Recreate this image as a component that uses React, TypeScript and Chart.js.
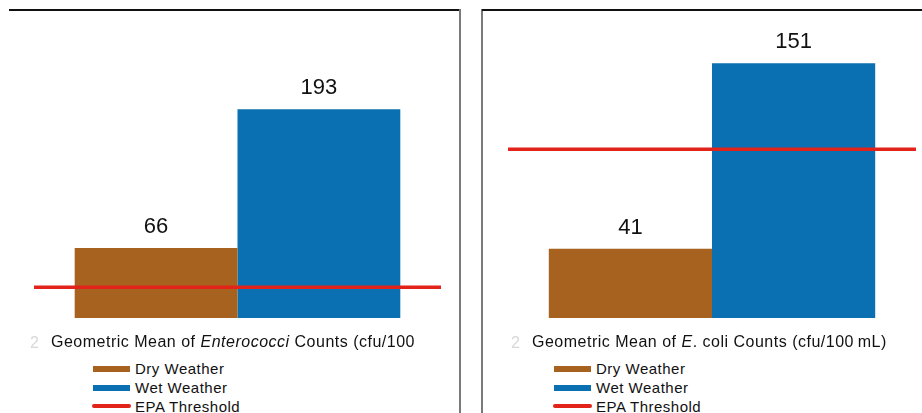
import React, { useEffect, useRef } from "react";
import { Chart, registerables } from "chart.js";

Chart.register(...registerables);

// Series shared by both panels
const seriesNames = ["Dry Weather", "Wet Weather"];
const seriesColors = ["#A6621E", "#0A70B1"];
const thresholdName = "EPA Threshold";
const thresholdColor = "#E2231A";

// Enterococci panel
const enteroValues = [66, 193];
const enteroThreshold = 30;
const enteroMax = 250;

// E. coli panel
const ecoliValues = [41, 151];
const ecoliThreshold = 100;
const ecoliMax = 160;

const FONT = "'Liberation Sans', Arial, Helvetica, sans-serif";

// Draws the value above each bar
const valueLabels = {
  id: "valueLabels",
  afterDatasetsDraw(chart: any) {
    const ctx = chart.ctx;
    ctx.save();
    ctx.font = `22px ${FONT}`;
    ctx.fillStyle = "#111";
    ctx.textAlign = "center";
    ctx.textBaseline = "alphabetic";
    chart.data.datasets.forEach((ds: any, i: number) => {
      const meta = chart.getDatasetMeta(i);
      meta.data.forEach((bar: any, j: number) => {
        ctx.fillText(String(ds.data[j]), bar.x, bar.y - 15);
      });
    });
    ctx.restore();
  },
};

// Draws the threshold as a horizontal rule across the plot area
const thresholdLine = {
  id: "thresholdLine",
  afterDatasetsDraw(chart: any, _args: any, opts: any) {
    const { ctx, chartArea, scales } = chart;
    const y = scales.y.getPixelForValue(opts.value);
    ctx.save();
    ctx.strokeStyle = opts.color;
    ctx.lineWidth = 3.5;
    ctx.beginPath();
    ctx.moveTo(chartArea.left, y);
    ctx.lineTo(chartArea.right, y);
    ctx.stroke();
    ctx.restore();
  },
};

type PanelProps = {
  values: number[];
  threshold: number;
  max: number;
  left: number;
  padLeft: number;
  padRight: number;
  padTop: number;
  padBottom: number;
  width: number;
};

function BarPanel({ values, threshold, max, left, padLeft, padRight, padTop, padBottom, width }: PanelProps) {
  const ref = useRef<HTMLCanvasElement | null>(null);
  useEffect(() => {
    if (!ref.current) return;
    const chart = new Chart(ref.current, {
      type: "bar",
      data: {
        labels: [""],
        datasets: seriesNames.map((name, i) => ({
          label: name,
          data: [values[i]],
          backgroundColor: seriesColors[i],
          borderWidth: 0,
          categoryPercentage: 0.8,
          barPercentage: 1,
        })),
      },
      options: {
        animation: false,
        responsive: false,
        maintainAspectRatio: false,
        layout: { padding: { left: padLeft, right: padRight, top: padTop, bottom: padBottom } },
        scales: {
          x: { display: false },
          y: { display: false, min: 0, max },
        },
        plugins: {
          legend: { display: false },
          tooltip: { enabled: false },
          thresholdLine: { value: threshold, color: thresholdColor },
        } as any,
      },
      plugins: [valueLabels, thresholdLine],
    });
    return () => chart.destroy();
  }, []);
  return (
    <canvas
      ref={ref}
      width={width}
      height={330}
      style={{ position: "absolute", left, top: 0, width, height: 330 }}
    />
  );
}

function Legend({ left }: { left: number }) {
  const rows = [
    { name: seriesNames[0], color: seriesColors[0], kind: "bar" },
    { name: seriesNames[1], color: seriesColors[1], kind: "bar" },
    { name: thresholdName, color: thresholdColor, kind: "line" },
  ];
  return (
    <>
      {rows.map((r, i) => (
        <div
          key={r.name}
          style={{
            position: "absolute",
            left,
            top: 361 + i * 19,
            height: 15,
            lineHeight: "15px",
            fontSize: 15,
            letterSpacing: "0.5px",
            fontFamily: FONT,
            color: "#111",
            whiteSpace: "nowrap",
          }}
        >
          <span
            style={{
              position: "absolute",
              left: r.kind === "bar" ? 1 : 0,
              top: 5,
              width: r.kind === "bar" ? 37 : 39,
              height: r.kind === "bar" ? 6 : 4,
              borderRadius: r.kind === "bar" ? 0 : 2,
              background: r.color,
            }}
          />
          <span style={{ position: "absolute", left: 43 }}>{r.name}</span>
        </div>
      ))}
    </>
  );
}

function Title({ left, children }: { left: number; children: React.ReactNode }) {
  return (
    <>
      <div
        style={{
          position: "absolute",
          left: left - 21,
          top: 335,
          fontSize: 16,
          lineHeight: "16px",
          fontFamily: FONT,
          color: "#d8d8d8",
        }}
      >
        2
      </div>
      <div
        style={{
          position: "absolute",
          left,
          top: 334,
          fontSize: 16,
          lineHeight: "16px",
          letterSpacing: "0.5px",
          fontFamily: FONT,
          color: "#111",
          whiteSpace: "nowrap",
        }}
      >
        {children}
      </div>
    </>
  );
}

export default function App() {
  return (
    <div
      style={{
        position: "fixed",
        left: 0,
        top: 0,
        width: 922,
        height: 413,
        background: "#fff",
        overflow: "hidden",
      }}
    >
      {/* panel frames */}
      <div style={{ position: "absolute", left: 9, top: 9, width: 451, height: 1.5, background: "#111" }} />
      <div style={{ position: "absolute", left: 459, top: 9, width: 2, height: 404, background: "#7a7a7a" }} />
      <div style={{ position: "absolute", left: 481, top: 9, width: 2, height: 404, background: "#7a7a7a" }} />
      <div style={{ position: "absolute", left: 482, top: 9, width: 440, height: 1.5, background: "#111" }} />

      <BarPanel values={enteroValues} threshold={enteroThreshold} max={enteroMax} left={0} padLeft={34} padRight={17} padTop={47} padBottom={10} width={458} />
      <BarPanel values={ecoliValues} threshold={ecoliThreshold} max={ecoliMax} left={462} padLeft={46} padRight={6} padTop={48} padBottom={12} width={460} />

      {/* the caption block sits over the lower edge of the plot */}
      <div style={{ position: "absolute", left: 0, top: 318, width: 458, height: 14, background: "#fff" }} />

      <Title left={51}>
        Geometric Mean of <i>Enterococci</i> Counts (cfu/100
      </Title>
      <Title left={532}>
        Geometric Mean of <i>E</i>. coli Counts (cfu/100{"\u2009"}mL)
      </Title>

      <Legend left={92} />
      <Legend left={553} />
    </div>
  );
}
